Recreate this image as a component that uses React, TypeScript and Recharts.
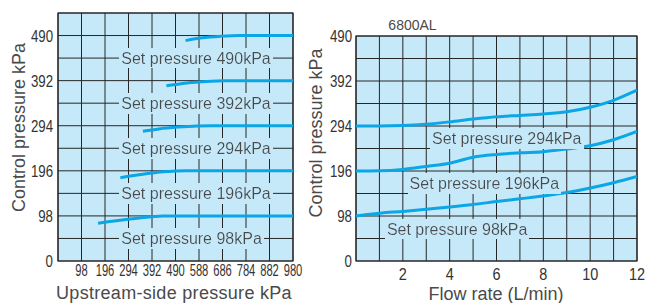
import React from "react";
import {
  LineChart,
  Line,
  XAxis,
  YAxis,
  CartesianGrid,
  ReferenceArea,
  ReferenceDot,
} from "recharts";

// ---------- Left chart data (Upstream-side pressure vs Control pressure) ----------
const leftXTicks = [0, 98, 196, 294, 392, 490, 588, 686, 784, 882, 980];
const leftYTicks = [0, 49, 98, 147, 196, 245, 294, 343, 392, 441, 490, 539];

const set490 = [
  { x: 532, y: 479 },
  { x: 600, y: 485 },
  { x: 680, y: 488.5 },
  { x: 760, y: 490 },
  { x: 980, y: 490 },
];
const set392 = [
  { x: 452, y: 381 },
  { x: 520, y: 386 },
  { x: 600, y: 389.5 },
  { x: 690, y: 391.5 },
  { x: 740, y: 392 },
  { x: 980, y: 392 },
];
const set294 = [
  { x: 354, y: 282 },
  { x: 420, y: 287 },
  { x: 500, y: 291 },
  { x: 580, y: 293.5 },
  { x: 640, y: 294 },
  { x: 980, y: 294 },
];
const set196 = [
  { x: 260, y: 181 },
  { x: 330, y: 187 },
  { x: 410, y: 192.5 },
  { x: 494, y: 195.8 },
  { x: 560, y: 196 },
  { x: 980, y: 196 },
];
const set98 = [
  { x: 167, y: 82 },
  { x: 250, y: 88 },
  { x: 340, y: 93.5 },
  { x: 437, y: 97.6 },
  { x: 500, y: 98 },
  { x: 980, y: 98 },
];
const leftSeries = [set490, set392, set294, set196, set98];
const leftLabels = [
  { text: "Set pressure 490kPa", x: 264, y: 441 },
  { text: "Set pressure 392kPa", x: 264, y: 343 },
  { text: "Set pressure 294kPa", x: 264, y: 245 },
  { text: "Set pressure 196kPa", x: 264, y: 147 },
  { text: "Set pressure 98kPa", x: 264, y: 49 },
];

// ---------- Right chart data (Flow rate vs Control pressure, 6800AL) ----------
const flowRate = [0, 1, 2, 3, 4, 5, 6, 7, 8, 9, 10, 11, 12];
const flow294 = [294, 294, 295, 298, 303, 309, 314, 317, 320, 325, 335, 350, 372];
const flow196 = [196, 196.5, 199.5, 206, 213, 226, 232, 235.5, 238, 244, 251, 264, 282];
const flow98 = [98, 104, 108, 112.5, 117.5, 123, 129.5, 135.5, 141.5, 149, 159, 170.5, 184];
const rightYTicks = [0, 49, 98, 147, 196, 245, 294, 343, 392, 441, 490];
const rightLabels = [
  { text: "Set pressure 294kPa", x: 3.25, y: 266 },
  { text: "Set pressure 196kPa", x: 2.29, y: 168.5 },
  { text: "Set pressure 98kPa", x: 1.32, y: 69.5 },
];

const rightData = flowRate.map((f, i) => ({
  flow: f,
  p294: flow294[i],
  p196: flow196[i],
  p98: flow98[i],
}));

// ---------- styles ----------
const PLOT_BG = "#c6e9fa";
const GRID = "#262626";
const LINE = "#0aa6e6";
const TEXT = "#4a4a4a";
const SANS = "'Liberation Sans', Arial, sans-serif";

const labelShape = (text: string) => (p: any) => (
  <text
    x={p.cx}
    y={p.cy}
    fill={TEXT}
    fontSize={16}
    fontFamily={SANS}
    dominantBaseline="central"
    textAnchor="start"
    filter="url(#labelbg)"
  >
    {text}
  </text>
);

// Condensed tick renderer (narrow glyphs via horizontal scaling)
const makeTick =
  (
    fontSize: number,
    sx: number,
    anchor: "end" | "middle",
    fmt: (v: number) => string,
    vertical: boolean
  ) =>
  (p: any) => {
    const label = fmt(p.payload.value);
    if (!label) return <g />;
    return (
      <text
        transform={`translate(${p.x},${p.y}) scale(${sx},1)`}
        x={0}
        y={0}
        textAnchor={anchor}
        dy={vertical ? "0.36em" : "0.75em"}
        fontSize={fontSize}
        fontFamily={SANS}
        fill="#333"
      >
        {label}
      </text>
    );
  };

const leftXFmt = (v: number) => (v === 0 ? "" : String(v));
const yFmt = (v: number) => (v % 98 === 0 && v <= 490 ? String(v) : "");
const rightXFmt = (v: number) => (v !== 0 && v % 2 === 0 ? String(v) : "");

export default function App() {
  return (
    <div
      style={{
        position: "absolute",
        left: 0,
        top: 0,
        width: 646,
        height: 303,
        background: "#fff",
        overflow: "hidden",
      }}
    >
      <svg width={0} height={0} style={{ position: "absolute" }}>
        <defs>
          <filter id="labelbg" x="-0.01" y="-0.08" width="1.02" height="1.16">
            <feFlood floodColor={PLOT_BG} />
            <feComposite in="SourceGraphic" operator="over" />
          </filter>
        </defs>
      </svg>

      {/* Left chart */}
      <div style={{ position: "absolute", left: 0, top: 0 }}>
        <LineChart
          width={320}
          height={303}
          margin={{ top: 13, right: 27, left: 0, bottom: 0 }}
        >
          <CartesianGrid fill={PLOT_BG} stroke={GRID} strokeOpacity={1} />
          <XAxis
            type="number"
            dataKey="x"
            domain={[0, 980]}
            ticks={leftXTicks}
            interval={0}
            height={42}
            axisLine={false}
            tickLine={false}
            tickSize={2}
            tickMargin={1}
            tick={makeTick(16.5, 0.68, "middle", leftXFmt, false)}
            allowDataOverflow
          />
          <YAxis
            type="number"
            domain={[0, 539]}
            ticks={leftYTicks}
            interval={0}
            width={58}
            axisLine={false}
            tickLine={false}
            tickSize={3}
            tickMargin={2}
            tick={makeTick(17, 0.78, "end", yFmt, true)}
            allowDataOverflow
          />
          <ReferenceArea
            x1={0}
            x2={980}
            y1={0}
            y2={539}
            fill="none"
            stroke={GRID}
            strokeWidth={1.2}
            fillOpacity={0}
          />
          {leftSeries.map((s, i) => (
            <Line
              key={i}
              data={s}
              dataKey="y"
              type="monotone"
              stroke={LINE}
              strokeWidth={3}
              dot={false}
              isAnimationActive={false}
            />
          ))}
          {leftLabels.map((l, i) => (
            <ReferenceDot
              key={"l" + i}
              x={l.x}
              y={l.y}
              r={0}
              shape={labelShape(l.text)}
            />
          ))}
        </LineChart>
      </div>

      {/* Right chart */}
      <div style={{ position: "absolute", left: 320, top: 0 }}>
        <LineChart
          width={326}
          height={303}
          data={rightData}
          margin={{ top: 36, right: 9, left: 0, bottom: 0 }}
        >
          <CartesianGrid fill={PLOT_BG} stroke={GRID} strokeOpacity={1} />
          <XAxis
            type="number"
            dataKey="flow"
            domain={[0, 12]}
            ticks={flowRate}
            interval={0}
            height={42}
            axisLine={false}
            tickLine={false}
            tickSize={4}
            tickMargin={2}
            tick={makeTick(17, 0.85, "middle", rightXFmt, false)}
            allowDataOverflow
          />
          <YAxis
            type="number"
            domain={[0, 490]}
            ticks={rightYTicks}
            interval={0}
            width={36}
            axisLine={false}
            tickLine={false}
            tickSize={2}
            tickMargin={2}
            tick={makeTick(17, 0.78, "end", yFmt, true)}
            allowDataOverflow
          />
          <ReferenceArea
            x1={0}
            x2={12}
            y1={0}
            y2={490}
            fill="none"
            stroke={GRID}
            strokeWidth={1.2}
            fillOpacity={0}
          />
          <Line dataKey="p294" type="monotone" stroke={LINE} strokeWidth={3} dot={false} isAnimationActive={false} />
          <Line dataKey="p196" type="monotone" stroke={LINE} strokeWidth={3} dot={false} isAnimationActive={false} />
          <Line dataKey="p98" type="monotone" stroke={LINE} strokeWidth={3} dot={false} isAnimationActive={false} />
          {rightLabels.map((l, i) => (
            <ReferenceDot
              key={"r" + i}
              x={l.x}
              y={l.y}
              r={0}
              shape={labelShape(l.text)}
            />
          ))}
        </LineChart>
      </div>

      {/* Axis titles overlay */}
      <svg
        width={646}
        height={303}
        style={{ position: "absolute", left: 0, top: 0, pointerEvents: "none" }}
      >
        <text
          x={18.5}
          y={127.5}
          transform="rotate(-90 18.5 127.5)"
          textAnchor="middle"
          dominantBaseline="central"
          fontSize={18}
          fontFamily={SANS}
          fill={TEXT}
        >
          Control pressure kPa
        </text>
        <text
          x={315.5}
          y={133}
          transform="rotate(-90 315.5 133)"
          textAnchor="middle"
          dominantBaseline="central"
          fontSize={18}
          fontFamily={SANS}
          fill={TEXT}
        >
          Control pressure kPa
        </text>
        <text
          x={174}
          y={293}
          textAnchor="middle"
          dominantBaseline="central"
          fontSize={18}
          fontFamily={SANS}
          fill={TEXT}
          letterSpacing={0.3}
        >
          Upstream-side pressure kPa
        </text>
        <text
          x={496}
          y={294}
          textAnchor="middle"
          dominantBaseline="central"
          fontSize={18}
          fontFamily={SANS}
          fill={TEXT}
        >
          Flow rate (L/min)
        </text>
        <text
          x={412.5}
          y={25}
          textAnchor="middle"
          dominantBaseline="central"
          fontSize={14}
          fontFamily={SANS}
          fill={TEXT}
        >
          6800AL
        </text>
      </svg>
    </div>
  );
}
